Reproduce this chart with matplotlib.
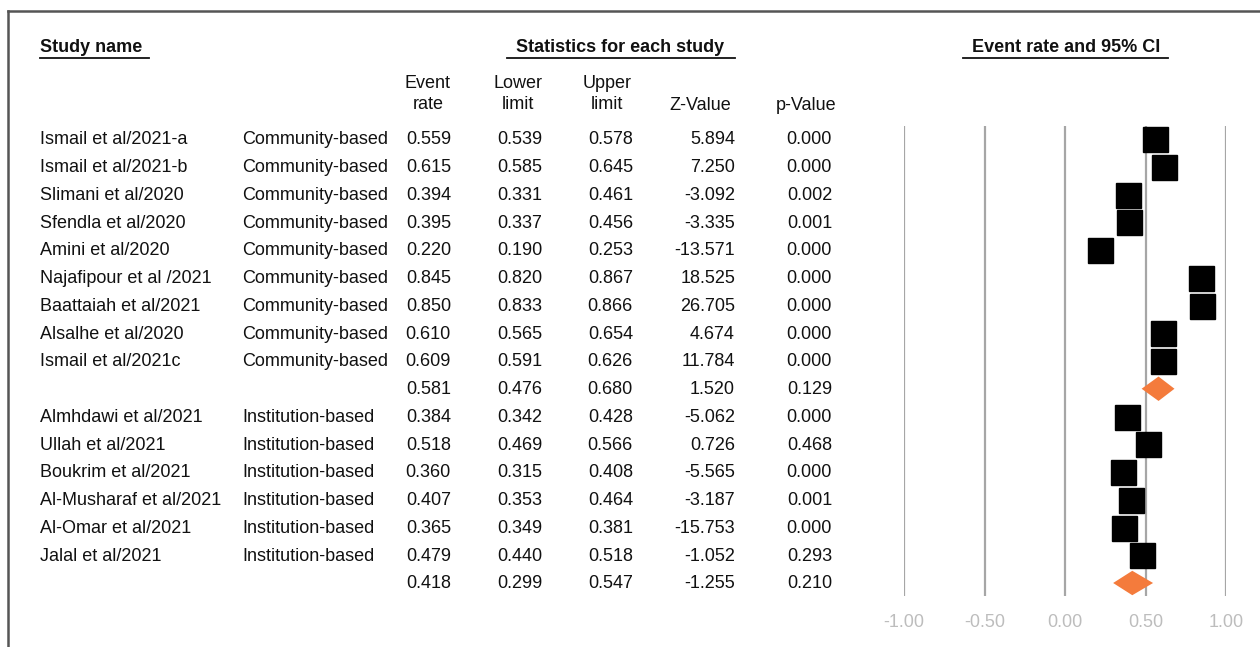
import matplotlib.pyplot as plt
from matplotlib.lines import Line2D
from matplotlib.transforms import blended_transform_factory
import numpy as np

plt.rcParams['font.family'] = ['Liberation Sans', 'DejaVu Sans']

# per-study statistics
studies = ['Ismail et al/2021-a', 'Ismail et al/2021-b', 'Slimani et al/2020', 'Sfendla et al/2020',
           'Amini et al/2020', 'Najafipour et al /2021', 'Baattaiah et al/2021', 'Alsalhe et al/2020',
           'Ismail et al/2021c', 'Almhdawi et al/2021', 'Ullah et al/2021', 'Boukrim et al/2021',
           'Al-Musharaf et al/2021', 'Al-Omar et al/2021', 'Jalal et al/2021']
groups = ['Community-based'] * 9 + ['Institution-based'] * 6
rate = [0.559, 0.615, 0.394, 0.395, 0.220, 0.845, 0.850, 0.610, 0.609,
        0.384, 0.518, 0.360, 0.407, 0.365, 0.479]
lower = [0.539, 0.585, 0.331, 0.337, 0.190, 0.820, 0.833, 0.565, 0.591,
         0.342, 0.469, 0.315, 0.353, 0.349, 0.440]
upper = [0.578, 0.645, 0.461, 0.456, 0.253, 0.867, 0.866, 0.654, 0.626,
         0.428, 0.566, 0.408, 0.464, 0.381, 0.518]
zval = [5.894, 7.250, -3.092, -3.335, -13.571, 18.525, 26.705, 4.674, 11.784,
        -5.062, 0.726, -5.565, -3.187, -15.753, -1.052]
pval = [0.000, 0.000, 0.002, 0.001, 0.000, 0.000, 0.000, 0.000, 0.000,
        0.000, 0.468, 0.000, 0.001, 0.000, 0.293]

# pooled estimate for each subgroup
sub_groups = ['Community-based', 'Institution-based']
sub_rate = [0.581, 0.418]
sub_lower = [0.476, 0.299]
sub_upper = [0.680, 0.547]
sub_z = [1.520, -1.255]
sub_p = [0.129, 0.210]

# build row list: studies of a group followed by its pooled row
rows = []
for g, sr, sl, su, sz, sp in zip(sub_groups, sub_rate, sub_lower, sub_upper, sub_z, sub_p):
    for i in range(len(studies)):
        if groups[i] == g:
            rows.append((studies[i], g, rate[i], lower[i], upper[i], zval[i], pval[i], False))
    rows.append(('', '', sr, sl, su, sz, sp, True))

W, H = 1260, 647
fig = plt.figure(figsize=(W / 100, H / 100), dpi=100)


def fx(px):
    return px / W


def fy(py):
    return 1 - py / H


# forest panel: -1..1 spans x 904..1226 px, rows 27.75 px apart starting at y=139
ax = fig.add_axes([fx(904), fy(596), fx(1226) - fx(904), fy(126) - fy(596)])
ax.set_xlim(-1, 1)
n = len(rows)
ax.set_ylim(n - 1 + 13 / 27.75, -13 / 27.75)
for s in ax.spines.values():
    s.set_visible(False)
ax.set_yticks([])
ticks = [-1.0, -0.5, 0.0, 0.5, 1.0]
ax.set_xticks(ticks)
ax.set_xticklabels([f'{t:.2f}' for t in ticks])
ax.tick_params(axis='x', length=0, pad=13, labelsize=13, labelcolor='#bdbdbd')
for t in ticks:
    ax.axvline(t, color='#a6a6a6', lw=1.6, zorder=1)

for i, r in enumerate(rows):
    name, g, er, lo, up, z, p, pooled = r
    if pooled:
        ax.fill([lo, er, up, er], [i, i - 0.44, i, i + 0.44], color='#f47b3c', lw=0, zorder=3)
    else:
        ax.plot(er, i, marker='s', ms=18, color='black', zorder=3, clip_on=False)

# table text, x in figure pixels, y in row units
tr = blended_transform_factory(fig.transFigure, ax.transData)
fs = 13
col = '#111111'
for i, r in enumerate(rows):
    name, g, er, lo, up, z, p, pooled = r
    kw = dict(transform=tr, fontsize=fs, color=col, va='center')
    fig.text(fx(40), i + 0.03, name, ha='left', **kw)
    fig.text(fx(242), i + 0.03, g, ha='left', **kw)
    fig.text(fx(451), i + 0.03, f'{er:.3f}', ha='right', **kw)
    fig.text(fx(542), i + 0.03, f'{lo:.3f}', ha='right', **kw)
    fig.text(fx(633), i + 0.03, f'{up:.3f}', ha='right', **kw)
    fig.text(fx(735), i + 0.03, f'{z:.3f}', ha='right', **kw)
    fig.text(fx(832), i + 0.03, f'{p:.3f}', ha='right', **kw)

# column headers
hdr = dict(fontsize=fs, color=col, ha='center', va='center', linespacing=1.3)
fig.text(fx(428), fy(94), 'Event\nrate', **hdr)
fig.text(fx(518), fy(94), 'Lower\nlimit', **hdr)
fig.text(fx(607), fy(94), 'Upper\nlimit', **hdr)
fig.text(fx(700), fy(105), 'Z-Value', **hdr)
fig.text(fx(806), fy(105), 'p-Value', **hdr)

# section titles with underlines
ttl = dict(fontsize=13, color=col, fontweight='bold', va='center')
fig.text(fx(40), fy(47), 'Study name', ha='left', **ttl)
fig.text(fx(620), fy(47), 'Statistics for each study', ha='center', **ttl)
fig.text(fx(1066), fy(47), 'Event rate and 95% CI', ha='center', **ttl)
for x0, x1 in [(40, 149), (507, 735), (963, 1168)]:
    fig.add_artist(Line2D([fx(x0), fx(x1)], [fy(57.5), fy(57.5)], color='#111111', lw=1.3,
                          transform=fig.transFigure))

# frame on the top and left edges
fig.add_artist(Line2D([fx(8), fx(W)], [fy(11), fy(11)], color='#555555', lw=1.8,
                      transform=fig.transFigure))
fig.add_artist(Line2D([fx(8), fx(8)], [fy(11), fy(H)], color='#555555', lw=1.8,
                      transform=fig.transFigure))

fig.savefig('out.png', dpi=100)
